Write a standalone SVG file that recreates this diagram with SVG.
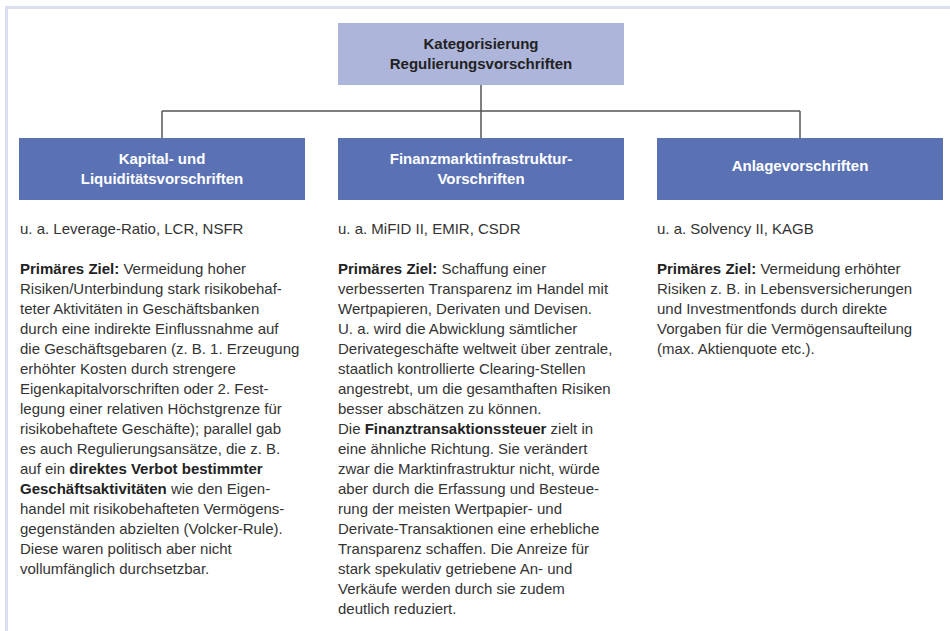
<svg xmlns="http://www.w3.org/2000/svg" width="950" height="631" viewBox="0 0 950 631">
  <style>
    .frame { fill: none; stroke: #dcdff0; stroke-width: 3; }
    .root-box { fill: #adb5da; }
    .cat-box { fill: #5a71b4; }
    .root-label { font-family: "Liberation Sans", Arial, sans-serif; font-size: 15px; font-weight: bold; fill: #222222; text-anchor: middle; }
    .cat-label { font-family: "Liberation Sans", Arial, sans-serif; font-size: 15px; font-weight: bold; fill: #ffffff; text-anchor: middle; }
    .body { font-family: "Liberation Sans", Arial, sans-serif; font-size: 15px; fill: #333333; }
    .b { font-weight: bold; fill: #222222; }
    .link { fill: none; stroke: #555555; stroke-width: 1.5; }
  </style>

  <!-- background and page frame -->
  <rect x="0" y="0" width="950" height="631" fill="#ffffff"/>
  <path class="frame" d="M6.5 631 V7.5 H950"/>

  <!-- tree connectors -->
  <g id="connectors">
    <path class="link" d="M481 85 V111"/>
    <path class="link" d="M162 111 H800"/>
    <path class="link" d="M162 111 V138"/>
    <path class="link" d="M481 111 V138"/>
    <path class="link" d="M800 111 V138"/>
  </g>

  <!-- root node -->
  <g id="node-root">
    <rect class="root-box" x="338" y="23" width="286" height="62"/>
    <text class="root-label" x="481" y="49">Kategorisierung</text>
    <text class="root-label" x="481" y="68.5">Regulierungsvorschriften</text>
  </g>

  <!-- category nodes -->
  <g id="node-kapital">
    <rect class="cat-box" x="19" y="138" width="286" height="62"/>
    <text class="cat-label" x="162" y="164">Kapital- und</text>
    <text class="cat-label" x="162" y="184">Liquiditätsvorschriften</text>
  </g>

  <g id="node-finanzmarkt">
    <rect class="cat-box" x="338" y="138" width="286" height="62"/>
    <text class="cat-label" x="481" y="164">Finanzmarktinfrastruktur-</text>
    <text class="cat-label" x="481" y="184">Vorschriften</text>
  </g>

  <g id="node-anlage">
    <rect class="cat-box" x="657" y="138" width="286" height="62"/>
    <text class="cat-label" x="800" y="171">Anlagevorschriften</text>
  </g>

  <!-- description under each category -->
  <g id="text-kapital" class="body">
    <text x="20" y="234">u. a. Leverage-Ratio, LCR, NSFR</text>
    <text x="20" y="274"><tspan class="b">Primäres Ziel:</tspan> Vermeidung hoher</text>
    <text x="20" y="294">Risiken/Unterbindung stark risikobehaf-</text>
    <text x="20" y="314">teter Aktivitäten in Geschäftsbanken</text>
    <text x="20" y="334">durch eine indirekte Einflussnahme auf</text>
    <text x="20" y="354">die Geschäftsgebaren (z. B. 1. Erzeugung</text>
    <text x="20" y="374">erhöhter Kosten durch strengere</text>
    <text x="20" y="394">Eigenkapitalvorschriften oder 2. Fest-</text>
    <text x="20" y="414">legung einer relativen Höchstgrenze für</text>
    <text x="20" y="434">risikobehaftete Geschäfte); parallel gab</text>
    <text x="20" y="454">es auch Regulierungsansätze, die z. B.</text>
    <text x="20" y="474">auf ein <tspan class="b">direktes Verbot bestimmter</tspan></text>
    <text x="20" y="494"><tspan class="b">Geschäftsaktivitäten</tspan> wie den Eigen-</text>
    <text x="20" y="514">handel mit risikobehafteten Vermögens-</text>
    <text x="20" y="534">gegenständen abzielten (Volcker-Rule).</text>
    <text x="20" y="554">Diese waren politisch aber nicht</text>
    <text x="20" y="574">vollumfänglich durchsetzbar.</text>
  </g>

  <g id="text-finanzmarkt" class="body">
    <text x="338" y="234">u. a. MiFID II, EMIR, CSDR</text>
    <text x="338" y="274"><tspan class="b">Primäres Ziel:</tspan> Schaffung einer</text>
    <text x="338" y="294">verbesserten Transparenz im Handel mit</text>
    <text x="338" y="314">Wertpapieren, Derivaten und Devisen.</text>
    <text x="338" y="334">U. a. wird die Abwicklung sämtlicher</text>
    <text x="338" y="354">Derivategeschäfte weltweit über zentrale,</text>
    <text x="338" y="374">staatlich kontrollierte Clearing-Stellen</text>
    <text x="338" y="394">angestrebt, um die gesamthaften Risiken</text>
    <text x="338" y="414">besser abschätzen zu können.</text>
    <text x="338" y="434">Die <tspan class="b">Finanztransaktionssteuer</tspan> zielt in</text>
    <text x="338" y="454">eine ähnliche Richtung. Sie verändert</text>
    <text x="338" y="474">zwar die Marktinfrastruktur nicht, würde</text>
    <text x="338" y="494">aber durch die Erfassung und Besteue-</text>
    <text x="338" y="514">rung der meisten Wertpapier- und</text>
    <text x="338" y="534">Derivate-Transaktionen eine erhebliche</text>
    <text x="338" y="554">Transparenz schaffen. Die Anreize für</text>
    <text x="338" y="574">stark spekulativ getriebene An- und</text>
    <text x="338" y="594">Verkäufe werden durch sie zudem</text>
    <text x="338" y="614">deutlich reduziert.</text>
  </g>

  <g id="text-anlage" class="body">
    <text x="657" y="234">u. a. Solvency II, KAGB</text>
    <text x="657" y="274"><tspan class="b">Primäres Ziel:</tspan> Vermeidung erhöhter</text>
    <text x="657" y="294">Risiken z. B. in Lebensversicherungen</text>
    <text x="657" y="314">und Investmentfonds durch direkte</text>
    <text x="657" y="334">Vorgaben für die Vermögensaufteilung</text>
    <text x="657" y="354">(max. Aktienquote etc.).</text>
  </g>
</svg>
